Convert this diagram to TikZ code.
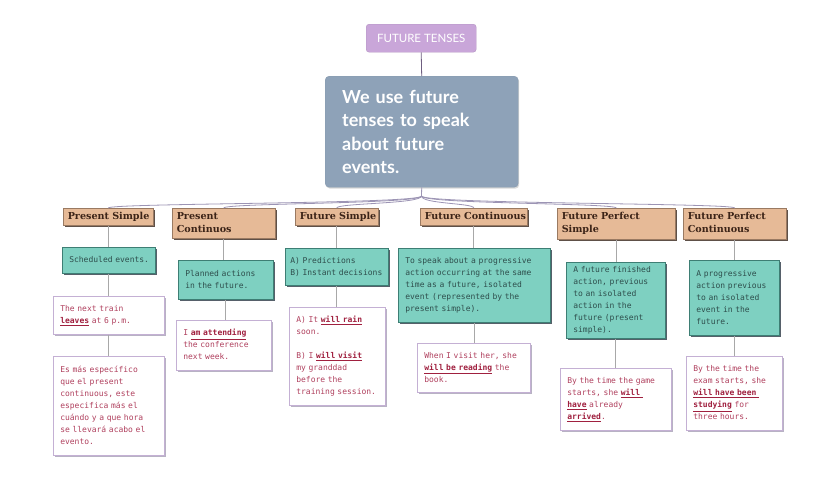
\documentclass[tikz,border=0pt]{standalone}
\usepackage{fontspec}
\setmainfont{Lato}
\newfontfamily\latofont{Lato}
\newfontfamily\catfont{DejaVu Serif}
\newfontfamily\monofont{DejaVu Sans Mono}
\usetikzlibrary{shadows}
\definecolor{lilac}{HTML}{C9A6D9}
\definecolor{lilacline}{HTML}{6E5E80}
\definecolor{bigblue}{HTML}{8EA2B8}
\definecolor{tanfill}{HTML}{E6BA97}
\definecolor{tanborder}{HTML}{9A7A62}
\definecolor{tanshadow}{HTML}{5E5048}
\definecolor{cattext}{HTML}{3C2418}
\definecolor{tealfill}{HTML}{7ED0C1}
\definecolor{tealborder}{HTML}{3E7E74}
\definecolor{tealshadow}{HTML}{56606A}
\definecolor{tealtext}{HTML}{2E4E4C}
\definecolor{wborder}{HTML}{C4B0D4}
\definecolor{wshadow}{HTML}{B8B2C4}
\definecolor{redtext}{HTML}{B0405E}
\definecolor{redbold}{HTML}{A0203F}
\definecolor{connline}{HTML}{A8A8A8}
\definecolor{hubline}{HTML}{9C94B4}
\newcommand\ulw[1]{{\color{redbold}\underline{\textbf{#1}}}}
\newcommand\lns[1]{\begin{tabular}{@{}l@{}}#1\end{tabular}}
\begin{document}
\begin{tikzpicture}[x=1pt,y=-1pt,
  titlebox/.style={anchor=north west, fill=lilac, draw=lilac!90!black, rounded corners=3pt,
    text=white, font=\latofont\fontsize{11.5}{13}\selectfont, inner sep=0pt},
  bigbox/.style={anchor=north west, fill=bigblue, draw=bigblue!95!black, rounded corners=4pt,
    text=white, align=left, inner xsep=17pt, inner ysep=0pt,
    font=\latofont\bfseries\fontsize{18}{23.5}\selectfont,
    drop shadow={shadow xshift=1pt, shadow yshift=-1.5pt, opacity=1, fill=black!15}},
  cat/.style={anchor=north west, draw=tanborder, fill=tanfill, line width=0.5pt,
    inner xsep=4.5pt, inner ysep=0pt, align=left, text=cattext,
    font=\catfont\bfseries\fontsize{9.6}{12.8}\selectfont,
    drop shadow={shadow xshift=1.8pt, shadow yshift=-1.8pt, opacity=1, fill=tanshadow}},
  tealbox/.style={anchor=north west, draw=tealborder, fill=tealfill, line width=0.6pt,
    inner xsep=7pt, inner ysep=0pt, align=left, text=tealtext,
    font=\monofont\fontsize{8}{12}\selectfont,
    drop shadow={shadow xshift=2pt, shadow yshift=-2pt, opacity=1, fill=tealshadow}},
  wbox/.style={anchor=north west, draw=wborder, fill=white, line width=0.6pt,
    inner xsep=7pt, inner ysep=0pt, align=left, text=redtext,
    font=\monofont\fontsize{8}{12}\selectfont,
    drop shadow={shadow xshift=2pt, shadow yshift=-2pt, opacity=1, fill=wshadow}},
  conn/.style={draw=connline, line width=0.8pt},
  hub/.style={draw=hubline, line width=0.8pt}]
\fill[white] (0,0) rectangle (840,480);
\useasboundingbox (0,0) rectangle (840,480);

% title and main
\node[titlebox, minimum width=110, minimum height=28] (title) at (366,24) {FUTURE TENSES};
\node[bigbox, text width=159, minimum height=111] (main) at (325,76)
  {We use future\\tenses to speak\\about future\\events.};
\draw[lilacline, line width=0.8pt] (title.south) -- (main.north);
\coordinate (hubpt) at (421.5,196);
\draw[hub] (main.south) -- (hubpt);

% categories
\node[cat, text width=81, minimum height=17] (ps) at (63,208) {\lns{Present Simple}};
\node[cat, text width=94, minimum height=30] (pc) at (172,208) {\lns{Present\\Continuos}};
\node[cat, text width=74, minimum height=17] (fs) at (295,208) {\lns{Future Simple}};
\node[cat, text width=98, minimum height=17] (fc) at (420,208) {\lns{Future Continuous}};
\node[cat, text width=109, minimum height=31] (fps) at (557,208) {\lns{Future Perfect\\Simple}};
\node[cat, text width=94, minimum height=31] (fpc) at (683,208) {\lns{Future Perfect\\Continuous}};

\foreach \c in {ps,pc,fs,fc,fps,fpc}
  \draw[hub] (hubpt) .. controls +(0,8) and +(0,-5) .. (\c.north);

% teal boxes
\node[tealbox, text width=79, minimum height=26] (ps1) at (62,247) {\lns{Scheduled events.}};
\node[tealbox, text width=81, minimum height=39] (pc1) at (178,260) {\lns{Planned actions\\in the future.}};
\node[tealbox, inner xsep=5pt, text width=93, minimum height=37] (fs1) at (285,248)
  {\lns{A) Predictions\\B) Instant decisions}};
\node[tealbox, text width=138, minimum height=74] (fc1) at (398,248)
  {\lns{To speak about a progressive\\action occurring at the same\\time as a future, isolated\\event (represented by the\\present simple).}};
\node[tealbox, text width=85, minimum height=76] (fps1) at (566,262)
  {\lns{A future finished\\action, previous\\to an isolated\\action in the\\future (present\\simple).}};
\node[tealbox, text width=76, minimum height=75] (fpc1) at (689,260)
  {\lns{A progressive\\action previous\\to an isolated\\event in the\\future.}};

% white boxes
\node[wbox, text width=97, minimum height=38] (ps2) at (53,296)
  {\lns{The next train\\\ulw{leaves} at 6 p.m.}};
\node[wbox, text width=97, minimum height=99] (ps3) at (53,356)
  {\lns{Es más específico\\que el present\\continuous, este\\especifica más el\\cuándo y a que hora\\se llevará acabo el\\evento.}};
\node[wbox, text width=81, minimum height=50] (pc2) at (176,320)
  {\lns{I \ulw{am attending}\\the conference\\next week.}};
\node[wbox, text width=82, minimum height=98] (fs2) at (289,307)
  {\lns{A) It \ulw{will rain}\\soon.\\[12pt]B) I \ulw{will visit}\\my granddad\\before the\\training session.}};
\node[wbox, text width=99, minimum height=49] (fc2) at (417,343)
  {\lns{When I visit her, she\\\ulw{will be reading} the\\book.}};
\node[wbox, text width=97, minimum height=62] (fps2) at (560,368)
  {\lns{By the time the game\\starts, she \ulw{will\ }\\\ulw{have} already\\\ulw{arrived}.}};
\node[wbox, text width=82, minimum height=74] (fpc2) at (686,356)
  {\lns{By the time the\\exam starts, she\\\ulw{will have been\ }\\\ulw{studying} for\\three hours.}};

% vertical connectors
\foreach \a/\b in {ps/ps1, ps1/ps2, ps2/ps3, pc/pc1, pc1/pc2, fs/fs1, fs1/fs2,
                   fc/fc1, fc1/fc2, fps/fps1, fps1/fps2, fpc/fpc1, fpc1/fpc2}
  \draw[conn] (\a.south) -- (\a.south |- \b.north);
\end{tikzpicture}
\end{document}
